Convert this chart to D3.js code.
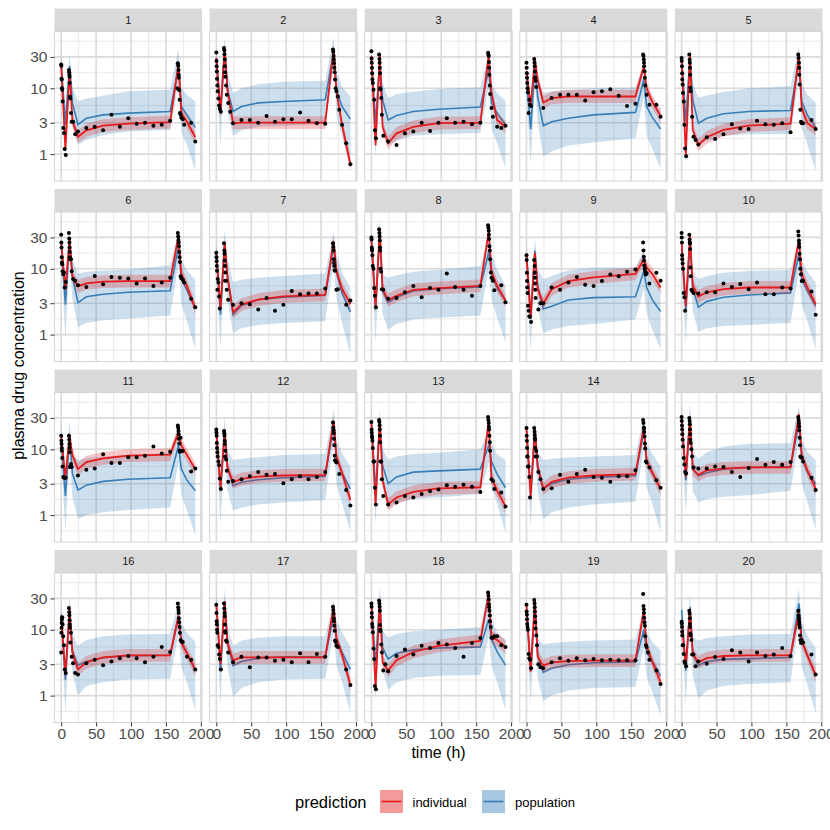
<!DOCTYPE html>
<html>
<head>
<meta charset="utf-8">
<script src="https://cdn.jsdelivr.net/npm/d3@7"></script>
<style>
  body { margin: 0; background: #fff; }
  text { font-family: "Liberation Sans", Arial, sans-serif; }
</style>
</head>
<body>
<script>
// ---- data ----
const subjects = ["1","2","3","4","5","6","7","8","9","10","11","12","13","14","15","16","17","18","19","20"];

// times (h) where the prediction lines / ribbons are evaluated
const lineTimes = [0, 6, 12, 16, 24, 36, 60, 96, 156, 168, 172, 180, 192];

// sampling times (h) of the observed concentrations
const obsTimes = [0, 0.25, 0.5, 0.75, 1, 1.5, 2, 3, 4, 5, 6.5,
  11, 11.5, 11.75, 12, 12.25, 12.5, 13, 14, 15, 17, 20,
  24, 36, 48, 60, 72, 84, 96, 108, 120, 132, 144, 156,
  166.5, 167, 167.5, 168, 168.25, 168.5, 169, 169.5, 170, 171, 172, 174, 176, 180, 186, 192];

const obsConc = [
  [23,22,14,13.6,10,9.5,6.3,2.5,2.1,1.2,0.97, 19,17.5,16,15,12,7.5,7,4.2,3.1,3.1,2.0, 2.2,2.5,2.6,2.3,3.95,2.6,3.5,2.9,3.0,2.7,2.8,3.2, 10,24,22,19,16,14.5,9.3,6.7,4.2,4,3.6,3.4,2.8,null,3,1.55],
  [35,26,21.7,18,14,11,9,7,5.5,4.9,4.4, 41,38,33,27.5,21.7,17.5,15,11,8,6,4.4, 2.95,3.3,3.3,3.0,3.8,3.1,3.4,3.4,4.3,3.2,2.95,2.9, null,39,36,31,27.5,24,20.5,17.5,13.6,10,9,7.5,4.7,2.8,1.46,0.7],
  [36.5,28.5,24.4,20.6,17,13.6,12,9.5,6.7,2.3,1.74, 32.6,28,24.4,20.6,17,10,9.6,7.1,3.95,1.9,null, 1.55,1.37,2.07,2.2,3.0,2.25,3.0,3.5,3.0,3.1,2.85,3.0, null,34.7,32.6,31,25,20.6,16,11,8.2,null,5,3.7,null,2.6,2.5,2.7],
  [24.4,20.6,17,14.5,12,10,8.7,4.2,6.7,5.6,5.4, 28,24.4,21.7,18,14.5,14.5,13,10.5,null,null,null, 5,7.1,8,8,8,6.5,8.7,9,9.7,7.7,5.4,5.8, null,32.6,31,27.5,24.4,21.7,18.2,14.5,11,null,8,null,5.6,null,5.6,3.7],
  [29,26,21.7,17,13.6,11.4,8.5,6.3,2.8,1.22,0.93, 32.6,27.5,24.4,20.6,16,10.2,9,null,3.7,1.84,1.64, 1.4,1.8,1.7,2.0,2.85,2.45,2.4,3.2,2.85,2.8,2.95,2.15, null,32.6,29,24.4,20.6,16,11.4,null,4.7,3.1,2.95,2.95,null,null,3.3,2.4],
  [33,25,21,15,12.5,11.7,9.2,8.3,8.8,5.2,6.3, 35,29,25,21,18,15,14,14,9.2,7,6.6, 5.6,5.3,7.8,5.8,7.5,7.3,7.1,6.0,7.1,5.5,6.2,7.3, null,35,31,27.5,25,22,18,15,12.7,7.7,7.2,6.8,6.2,null,3.5,2.6],
  [17.5,15,13,11,9.3,4.8,7,6.2,3.8,2.5,null, 24.5,19,17,13.4,11,6.6,8.8,6.6,4.8,3.4,null, 2.85,3.0,2.9,2.4,3.6,2.3,2.85,4.6,4.1,4.2,4.2,5.0, null,24.5,21.5,19,14,12.3,11,9.5,9.3,null,4.8,4.9,null,null,2.85,3.3],
  [30,28,21,20,19,16,11,10,5.1,3.9,2.6, 40,35,31,27,21,19,10,9,4.9,4.8,null, 3.5,3.6,4.4,5.5,3.7,5.1,4.8,8.5,5.3,4.8,3.9,5.5, null,46,42,38,33,28.5,22,19,14,8.8,7.3,6.6,4.7,null,5.6,3.1],
  [16,13.6,8.7,6.5,5.2,4.3,2.75,2.3,1.9,1.85,1.55, 13.6,11,8.7,7.3,6,4.8,3.6,null,null,2.4,3, 3.0,5.2,4.8,6.2,7.5,5.7,5.5,6.5,8.2,7.7,9,9.8, null,25,19,15.3,13.4,11.2,9.9,10,9,8.2,8.6,null,6,null,8.7,6.6],
  [35,30,25,16,14,12,10,4.3,3.7,2.3,null, 33,28,25,24,20,10.5,7.7,4.8,4.6,4.3,null, 4.2,4.4,4.4,6,5.3,5.9,4.9,6.2,4.1,4.1,5.2,5.0, null,37,32,27,24,21.5,17,14,10,8.3,6.5,6.5,null,null,4.5,2.0],
  [16,13.5,12,10.5,9.5,7.4,5.5,3.8,3.7,3.7,3.7, 16,14,12,10.5,9,5.4,5.4,6,5.4,null,null, 4,4.9,5.1,8.4,6.2,6.2,7.6,7.6,8,11,8.6,9.2, null,23,21,19,17,14.5,12.3,9.6,9.2,15,9.4,9.4,null,null,4.6,5.1],
  [20,18,16,12.5,10.5,9,7.8,6.5,5.7,3.6,2.5, 19,17.5,16,13.5,12,7.8,9.5,7,4.7,3.2,null, 3.3,3.5,3.9,4.5,4.1,4.2,3.05,3.5,3.9,3.5,3.8,4.5, null,25.5,21.5,19.5,17.5,14.5,11.5,8,6.8,6.5,6.3,null,4.2,null,2.4,1.4],
  [26,20,18,16,15,13.5,10.5,6.5,6.5,2.6,1.45, 28,26,23,20,16,12.8,6.5,6.5,3.5,1.95,null, 1.45,1.55,1.95,1.85,2.1,2.3,2.45,2.85,2.7,2.9,2.7,2.25, null,31,28,25,22,20,16,12.8,9.5,null,3.5,3.3,2.5,null,2.2,1.35],
  [21,16,13.5,10.5,7.8,7.8,5.5,5.5,3.8,1.85,null, 21,18.5,16.5,14.7,14,10.5,7.8,9.4,7.8,4.5,3.5, 2.5,2.55,4.1,3.2,4.2,4.9,3.8,3.7,3.2,3.9,3.9,4.8, null,28,25,21.5,20.5,18.3,15.6,12.3,10.3,6.5,6.3,null,5.3,null,3.4,2.6],
  [31,27,23,20,17,14,11,7.4,5.9,4.5,4.3, 30,27,24,20,17,14,12.5,10,7.8,5.3,null, 5.1,5.1,5.5,5.4,4.5,3.8,5.2,7.1,5.8,6.4,5.8,6.4, null,31,28,25,22.5,19.5,15,11.5,7.8,7.5,7.5,6.5,null,null,3.7,2.4],
  [4.5,9,10.7,12.8,14.3,15.5,12,8,5.8,2.5,2.2, 21.5,18.5,16.5,14,12,10.7,6.4,9,3.9,3.1,2.2, 2.1,3.1,3.5,2.9,3.3,3.7,4.0,3.7,3.2,3.9,5.5,4.6, null,25,22,20,18,15,13,11,9,7,6.7,6.5,null,3.9,3.5,2.5],
  [24,18,13.5,12,10,9,5.8,5.5,4.2,3.6,2.5, 25,21,18,16,12,9.5,9,6.9,6.6,4.5,null, 3.2,3.9,2.7,3.8,3.8,3.4,3.5,3.2,4.4,3.2,4.3,3.9, null,22.5,20,17.5,15,13.5,11.5,9.7,6.9,6.5,5.7,5.5,null,null,2.5,1.45],
  [25,22.5,18,15.5,12.3,11,9.2,5.2,3.6,1.4,1.25, 28,25,22.5,19.5,11.8,10,9.5,6,4.5,2.4,3, 2.35,4,5,4.2,5.7,5.3,6.3,6,5.3,3.9,6.3,7.5, null,37,33,29,24.5,22,19.5,16.5,13.5,11,7.6,7.6,8,8,5.8,5.5],
  [24,19,17,14.5,12.3,11,10,4.3,3.7,3.5,2.6, 28.5,25,22,19,16,13,10.5,8.2,5.8,3,2.7, 2.6,3.2,3.7,3.4,3.7,3.45,3.6,3.45,3.5,3.45,3.45,3.45, null,35,23,20.5,18,15.3,13,11.5,8,5.8,5.5,4.5,3.5,null,2.4,1.5],
  [13.3,12.5,11,9.3,8.2,5.8,5.8,4.3,3.3,3.1,2.8, 19.5,17.5,15,12.3,11,8.8,8.2,7,4.2,4.2,2.8, 3.3,3.05,3.85,3.6,4.9,4.5,3.3,4.5,4.0,4.2,5.3,4.0, null,19.5,16.5,15,13.4,12,10.8,8.2,7,6.3,7,6.4,null,null,4.2,2.1]
];

// individual prediction and its band
const ipred = [
  [23,1.18,19,3.2,1.84,2.3,2.7,2.9,3.05,24,4.2,3.1,1.8],
  [29,4.2,41,9.5,2.95,3.0,3.0,3.0,3.0,39,9,2.8,0.7],
  [31,1.37,32.6,2.6,1.46,2.07,2.6,2.95,3.0,32.6,8.5,3.3,2.6],
  [18.2,5.4,27.5,13.6,6.1,7.1,7.5,7.5,7.5,21.7,10,6.3,3.8],
  [29,0.97,32.6,2.33,1.37,1.8,2.33,2.7,2.9,32.6,5.0,2.95,2.4],
  [25,4.9,28.5,7.7,5.4,6.0,6.4,6.5,6.5,32,8.4,5.5,2.5],
  [17.5,2.55,24.7,7.7,2.2,2.85,3.4,3.8,4.0,26,9.4,5.0,2.9],
  [28.5,2.65,40,4.9,3.35,3.9,4.8,5.1,5.5,37,9,5.5,3.3],
  [16,1.86,17.4,4.9,2.95,4.9,6.5,7.4,8.4,14,10.5,8.4,5.2],
  [26,2.7,32,5.5,3.8,4.4,4.9,5.2,5.2,28,8.3,5.2,2.9],
  [16,3.7,16,8.2,5,6.4,7.3,8,8.3,18,11.5,8.2,5],
  [19.3,2.6,19.3,5.3,3.15,3.55,3.85,4.0,4.1,27,7.8,4.4,1.7],
  [26,1.45,29,3.4,1.45,1.85,2.25,2.55,2.65,27.5,3.6,2.35,1.36],
  [21,1.95,21,5.5,2.5,3.2,3.7,4.0,4.2,21.7,6.6,4.5,2.5],
  [31,3.85,31,5,4.1,4.8,5.1,5.3,5.3,34,8,4.8,2.5],
  [16.4,2.1,20.6,4.5,2.5,3.2,3.8,4.1,4.1,16.4,6.3,4.4,2.5],
  [25,3.0,27,6.3,3.45,3.8,3.8,3.8,3.8,22.7,7.5,4.2,1.45],
  [25,1.3,28,3.2,2.4,3.45,4.6,5.7,6.8,36,7.7,7,5.5],
  [23.2,2.3,28,3.9,2.85,3.2,3.35,3.4,3.4,20,5.6,3.3,1.6],
  [14,2.75,20.6,4.3,3.2,3.7,4.0,4.1,4.1,18.5,6.7,4.1,2.05]
];
const ipredLo = [
  [19.6,0.94,16.2,2.56,1.47,1.84,2.16,2.32,2.44,20.4,3.36,2.48,1.44],
  [24.7,3.36,34.9,7.6,2.36,2.4,2.4,2.4,2.4,33.2,7.2,2.24,0.55],
  [26.4,1.1,27.7,2.08,1.17,1.66,2.08,2.36,2.4,27.7,6.8,2.64,2.08],
  [15.5,4.3,23.4,10.9,4.9,5.7,6.0,6.0,6.0,18.4,8.0,5.0,3.0],
  [24.7,0.78,27.7,1.86,1.1,1.44,1.86,2.16,2.32,27.7,4.0,2.36,1.92],
  [21.3,3.9,24.2,6.2,4.3,4.8,5.1,5.2,5.2,27.2,6.7,4.4,2.0],
  [14.9,2.04,21,6.2,1.76,2.28,2.72,3.04,3.2,22.1,7.5,4.0,2.3],
  [24.2,2.12,34,3.9,2.68,3.12,3.84,4.08,4.4,31.5,7.2,4.4,2.6],
  [13.6,1.49,14.8,3.9,2.36,3.9,5.2,5.9,6.7,11.9,8.4,6.7,4.2],
  [22.1,2.16,27.2,4.4,3.04,3.52,3.92,4.16,4.16,23.8,6.6,4.16,2.3],
  [13.6,3.0,13.6,6.6,4.0,5.1,5.8,6.4,6.6,15.3,9.2,6.6,4.0],
  [16.4,2.08,16.4,4.24,2.52,2.84,3.08,3.2,3.28,23,6.24,3.52,1.33],
  [22.1,1.16,24.7,2.72,1.16,1.48,1.8,2.04,2.12,23.4,2.88,1.88,1.06],
  [17.9,1.56,17.9,4.4,2.0,2.56,2.96,3.2,3.36,18.4,5.3,3.6,1.95],
  [26.4,3.08,26.4,4.0,3.28,3.84,4.08,4.24,4.24,28.9,6.4,3.84,1.95],
  [13.9,1.68,17.5,3.6,2.0,2.56,3.04,3.28,3.28,13.9,5.0,3.52,1.95],
  [21.3,2.4,23,5.0,2.76,3.04,3.04,3.04,3.04,19.3,6.0,3.36,1.13],
  [21.3,1.04,23.8,2.56,1.92,2.76,3.68,4.56,5.44,30.6,6.16,5.6,4.3],
  [19.7,1.84,23.8,3.12,2.28,2.56,2.68,2.72,2.72,17,4.48,2.64,1.25],
  [11.9,2.2,17.5,3.44,2.56,2.96,3.2,3.28,3.28,15.7,5.36,3.28,1.6]
];
const ipredHi = [
  [27.1,1.48,22.4,4.0,2.3,2.88,3.38,3.63,3.81,28.3,5.25,3.88,2.25],
  [34.2,5.25,48.4,11.9,3.69,3.75,3.75,3.75,3.75,46.8,11.3,3.5,0.9],
  [36.6,1.71,38.5,3.25,1.83,2.59,3.25,3.69,3.75,38.5,10.6,4.13,3.25],
  [21.5,6.9,32.5,17,7.6,8.9,9.4,9.4,9.4,26,12.5,7.9,4.9],
  [34.2,1.21,38.5,2.91,1.71,2.25,2.91,3.38,3.63,38.5,6.25,3.69,3.0],
  [29.5,6.1,33.6,9.6,6.8,7.5,8.0,8.1,8.1,38.4,10.5,6.9,3.1],
  [20.7,3.2,29.1,9.6,2.75,3.56,4.25,4.75,5.0,31.2,11.8,6.25,3.6],
  [33.6,3.3,47.2,6.1,4.2,4.9,6.0,6.4,6.9,44.4,11.3,6.9,4.1],
  [18.9,2.33,20.5,6.1,3.7,6.1,8.1,9.25,10.5,16.8,13.1,10.5,6.5],
  [30.7,3.4,37.8,6.9,4.75,5.5,6.1,6.5,6.5,33.6,10.4,6.5,3.6],
  [18.9,4.6,18.9,10.3,6.25,8.0,9.1,10,10.4,21.6,14.4,10.3,6.25],
  [22.8,3.25,22.8,6.6,3.94,4.44,4.8,5.0,5.1,32.4,9.75,5.5,2.2],
  [30.7,1.81,34.2,4.25,1.81,2.31,2.81,3.19,3.31,33,4.5,2.94,1.77],
  [24.8,2.44,24.8,6.9,3.13,4.0,4.63,5.0,5.25,26,8.25,5.6,3.25],
  [36.6,4.8,36.6,6.25,5.1,6.0,6.4,6.6,6.6,40.8,10,6.0,3.25],
  [19.4,2.63,24.3,5.6,3.13,4.0,4.75,5.1,5.1,19.7,7.9,5.5,3.25],
  [29.5,3.75,31.9,7.9,4.31,4.75,4.75,4.75,4.75,27.2,9.4,5.25,1.89],
  [29.5,1.63,33,4.0,3.0,4.31,5.75,7.1,8.5,43.2,9.6,8.75,7.15],
  [27.4,2.88,33,4.9,3.56,4.0,4.19,4.25,4.25,24,7.0,4.13,2.08],
  [16.5,3.44,24.3,5.4,4.0,4.63,5.0,5.1,5.1,22.2,8.4,5.1,2.67]
];

// population prediction and its band
const pred = [
  [22,2.8,21.7,6,2.8,3.5,3.95,4.2,4.45,21,5.3,3.95,2.55],
  [29,4.4,39,9.5,4.45,5.3,6,6.3,6.7,37,9.5,5.3,3.4],
  [27.5,3.0,24,6.7,3.3,3.85,4.45,4.8,5.2,19.3,6,4.2,2.8],
  [13.6,2.4,20.5,7.5,2.7,3.1,3.5,3.95,4.3,13.6,5.3,3.65,2.4],
  [27.5,3.1,29,6.7,2.95,3.5,4.1,4.45,4.6,25.8,6.3,3.95,2.55],
  [25,2.85,26,7.7,3.05,3.75,4.1,4.4,4.65,22,7.3,4.7,2.5],
  [17.5,2.0,24.7,7.7,2.0,2.75,3.4,3.7,3.95,22,9,4.3,2.2],
  [27,2.4,35,4.6,3.1,3.7,4.6,5.0,5.3,18,8.5,5.1,3.3],
  [17,1.8,19,5.5,2.45,2.7,3.35,3.65,3.75,9.2,5.2,3.4,2.25],
  [20,2.4,24,5.1,2.6,3.2,3.7,4.0,4.3,17,7,4.6,2.7],
  [14,1.95,16,4.3,2.4,2.85,3.25,3.5,3.7,11.5,5,3.4,2.35],
  [17.5,2.4,19.3,5.3,2.8,3.15,3.45,3.7,3.9,23.6,7.4,4.4,2.5],
  [26,2.3,26,5.7,3.0,3.8,4.5,4.7,5.0,11.5,6.5,4.2,2.6],
  [19,2.1,19,5.1,2.55,3.0,3.5,3.75,3.95,19,6.6,4.3,2.5],
  [31,3.4,31,5,3.95,4.4,5.0,5.3,5.45,25,7.6,4.55,2.95],
  [17,1.75,20,4.8,2.9,3.3,3.75,4.05,4.1,16,6.7,4.5,2.4],
  [25,2.4,27,6.3,2.85,3.3,3.7,3.9,3.9,16.4,7.2,4.6,2.5],
  [25,2.9,28,5.4,3.6,4.4,4.95,5.3,5.5,14.5,7.2,4.65,2.9],
  [20,2.4,25,4.1,2.25,2.6,2.95,3.15,3.25,10,4.7,3.3,2.0],
  [20,2.4,22,4.3,2.9,3.3,3.55,3.65,3.8,25,7,4.1,2.0]
];
const predLo = [
  [12.1,0.84,11.9,2.7,1.37,1.65,1.95,2.2,2.33,11.6,2.12,1.38,0.57],
  [16,1.32,21.5,4.3,1.9,2.3,2.6,2.7,2.9,20.4,3.8,1.86,0.6],
  [15.1,0.9,13.2,3.0,1.37,1.6,1.9,2.0,2.1,10.6,2.4,1.47,0.62],
  [7.5,0.7,11.3,3.0,0.91,1.1,1.35,1.5,1.74,7.5,1.9,1.2,0.6],
  [15,0.93,16,3.0,1.37,1.6,1.9,2.0,2.0,14,2.5,1.4,0.56],
  [13.8,0.85,14.3,3.5,1.3,1.5,1.65,1.75,1.95,12,2.9,1.6,0.6],
  [9.6,0.6,13.6,3.5,1.05,1.25,1.4,1.5,1.6,12,3.6,1.5,0.5],
  [15,0.72,19,2.1,1.18,1.45,1.7,1.8,1.95,10,3.4,1.8,0.75],
  [9.4,0.55,10.5,2.5,1.05,1.2,1.35,1.45,1.7,5,2.1,1.2,0.6],
  [11,0.72,13.2,2.3,1.1,1.25,1.35,1.4,1.5,9.4,2.8,1.6,0.6],
  [7.7,0.55,8.8,1.9,0.87,1.0,1.1,1.2,1.3,6.3,2.0,1.2,0.49],
  [9.6,0.72,10.6,2.4,1.17,1.3,1.45,1.55,1.7,13,3.0,1.5,0.57],
  [14.3,0.7,14.3,2.6,1.25,1.55,1.75,1.85,2.1,6.3,2.6,1.5,0.54],
  [10.5,0.63,10.5,2.3,0.87,1.1,1.3,1.45,1.6,10.5,2.6,1.5,0.55],
  [17,1.0,17,2.3,1.55,1.75,1.9,2.0,2.35,14,3.0,1.6,0.6],
  [9.4,0.53,11,2.2,1.0,1.4,1.6,1.75,1.8,8.8,2.7,1.6,0.6],
  [13.8,0.72,14.9,2.8,0.95,1.3,1.6,1.75,1.8,9,2.9,1.6,0.55],
  [13.8,0.87,15.4,2.4,1.23,1.6,1.85,2.0,2.05,8,2.9,1.6,0.6],
  [11,0.72,13.8,1.85,0.82,1.0,1.2,1.3,1.35,5.5,1.9,1.15,0.5],
  [11,0.72,12.1,1.95,0.9,1.2,1.4,1.5,1.6,13.8,2.8,1.45,0.54]
];
const predHi = [
  [35,5.6,35,10.8,6.3,7.0,7.7,9.0,9.5,40,10.1,7.9,6.3],
  [46,8.8,60,17,8.5,10,11.5,12.6,13,60,18,10.6,7.5],
  [44,6.0,38.4,12.1,7.1,8.1,8.9,9.8,10.4,32.8,11.4,8.4,6.5],
  [22,5.0,33,14,8.5,9.0,9.5,10,10.3,23,10,6.5,4.6],
  [44,6.2,46,12,7.1,7.8,8.8,10,10.7,44,12,8,6.1],
  [40,5.7,42,14,8.5,9.0,9.4,9.8,11.3,37,14,9.4,6.9],
  [28,4.0,40,14,6.3,6.8,7.3,7.8,8.5,37,17,8.6,5.2],
  [43,4.8,56,8.3,7.3,8.0,9.0,9.7,11,31,16,10,5.5],
  [27,3.6,30,9.9,7.0,7.8,9.5,10.5,10.5,19,10,7,5.5],
  [32,4.8,38,9.2,7.0,7.8,8.7,9.3,9.6,29,13,9.2,6.2],
  [25,4.0,28,8.0,6.9,7.3,7.8,8.2,8.9,24,10,7,5.5],
  [28,4.8,31,9.5,6.9,7.2,7.6,8.2,8.5,40,14,8.8,5.5],
  [42,4.6,42,10.3,6.9,7.8,8.5,8.9,10,20,12.4,8.4,6.9],
  [30,4.2,30,9.2,6.9,7.2,7.5,7.8,8.2,32,12.5,8.6,5.5],
  [50,6.8,50,9.0,7.2,9.0,11,12,12.5,45,14.4,9.1,6.9],
  [27,3.5,32,8.6,5.7,7.0,8.0,8.5,8.6,27,12.7,9.0,6.5],
  [40,4.8,43,11.3,5.7,6.9,7.6,8.0,8.0,28,13.7,9.2,5.5],
  [40,5.8,45,9.7,7.6,8.6,9.5,10,11,40,13.7,9.3,6.9],
  [32,4.8,40,7.4,6.0,6.3,6.6,6.9,7.1,22,9,6.6,4.8],
  [32,4.8,35,7.7,6.9,7.5,8.0,8.5,8.6,42,13.3,8.2,5.3]
];

// axis ticks
const xTicks = [0, 50, 100, 150, 200];
const xMinorTicks = [25, 75, 125, 175];
const yTicks = [1, 3, 10, 30];
const yMinorTicks = [0.577, 1.732, 5.477, 17.32, 51.96];

const legendLabels = ["individual", "population"];
const colors = { individual: "#E41A1C", population: "#377EB8" };

// ---- layout ----
const plotLeft = 54.5, plotTop = 8.5;
const pw = 147.5, ph = 149.5, stripH = 23;
const colStep = 155.1, rowStep = 180.5;

const svg = d3.select("body")
    .append("svg")
    .attr("width", 830)
    .attr("height", 830);

const x = d3.scaleLinear().domain([-9.6, 201.6]).range([0, pw]);
const y = d3.scaleLog().domain([0.39, 73]).range([ph, 0]);

svg.append("defs").append("clipPath")
    .attr("id", "clip")
    .append("rect")
    .attr("width", pw)
    .attr("height", ph);

const band = d3.area()
    .x(d => x(d.t))
    .y0(d => y(d.lo))
    .y1(d => y(d.hi));
const line = d3.line()
    .x(d => x(d.t))
    .y(d => y(d.v));

subjects.forEach((id, i) => {
    const col = i % 5, row = Math.floor(i / 5);
    const g = svg.append("g")
        .attr("transform", "translate(" + (plotLeft + col * colStep) + "," + (plotTop + row * rowStep) + ")");

    // strip with the subject label
    g.append("rect")
        .attr("width", pw)
        .attr("height", stripH)
        .attr("fill", "#D9D9D9");
    g.append("text")
        .attr("x", pw / 2)
        .attr("y", stripH / 2)
        .attr("dy", "0.35em")
        .attr("text-anchor", "middle")
        .attr("font-size", 11)
        .attr("fill", "#1A1A1A")
        .text(id);

    const p = g.append("g").attr("transform", "translate(0," + stripH + ")");

    // grid
    p.selectAll(".ymin").data(yMinorTicks).enter().append("line")
        .attr("x1", 0).attr("x2", pw)
        .attr("y1", d => y(d)).attr("y2", d => y(d))
        .attr("stroke", "#E3E3E3").attr("stroke-width", 0.8);
    p.selectAll(".xmin").data(xMinorTicks).enter().append("line")
        .attr("y1", 0).attr("y2", ph)
        .attr("x1", d => x(d)).attr("x2", d => x(d))
        .attr("stroke", "#E3E3E3").attr("stroke-width", 0.8);
    p.selectAll(".ymaj").data(yTicks).enter().append("line")
        .attr("x1", 0).attr("x2", pw)
        .attr("y1", d => y(d)).attr("y2", d => y(d))
        .attr("stroke", "#DADADA").attr("stroke-width", 1.6);
    p.selectAll(".xmaj").data(xTicks).enter().append("line")
        .attr("y1", 0).attr("y2", ph)
        .attr("x1", d => x(d)).attr("x2", d => x(d))
        .attr("stroke", "#DADADA").attr("stroke-width", 1.6);

    const layer = p.append("g").attr("clip-path", "url(#clip)");

    const popBand = lineTimes.map((t, j) => ({ t: t, lo: predLo[i][j], hi: predHi[i][j] }));
    const indBand = lineTimes.map((t, j) => ({ t: t, lo: ipredLo[i][j], hi: ipredHi[i][j] }));
    const popLine = lineTimes.map((t, j) => ({ t: t, v: pred[i][j] }));
    const indLine = lineTimes.map((t, j) => ({ t: t, v: ipred[i][j] }));
    const obs = obsTimes.map((t, j) => ({ t: t, v: obsConc[i][j] })).filter(d => d.v != null);

    layer.append("path").datum(popBand).attr("d", band)
        .attr("fill", colors.population).attr("fill-opacity", 0.25);
    layer.append("path").datum(popLine).attr("d", line)
        .attr("fill", "none").attr("stroke", colors.population).attr("stroke-width", 1.6);
    layer.append("path").datum(indBand).attr("d", band)
        .attr("fill", colors.individual).attr("fill-opacity", 0.25);
    layer.append("path").datum(indLine).attr("d", line)
        .attr("fill", "none").attr("stroke", colors.individual).attr("stroke-width", 1.8);

    layer.selectAll("circle").data(obs).enter().append("circle")
        .attr("cx", d => x(d.t))
        .attr("cy", d => y(d.v))
        .attr("r", 2)
        .attr("fill", "#000");

    // panel border
    p.append("rect")
        .attr("width", pw).attr("height", ph)
        .attr("fill", "none").attr("stroke", "#D4D4D4").attr("stroke-width", 1);

    // axes on the outer panels
    if (col === 0) {
        const ya = p.append("g").call(d3.axisLeft(y).tickValues(yTicks).tickFormat(d3.format("d")).tickSize(4).tickPadding(3));
        ya.select(".domain").remove();
        ya.selectAll("line").attr("stroke", "#333");
        ya.selectAll("text").attr("font-size", 15.5).attr("fill", "#4D4D4D")
            .attr("font-family", "Liberation Sans, Arial, sans-serif");
    }
    if (row === 3) {
        const xa = p.append("g").attr("transform", "translate(0," + ph + ")")
            .call(d3.axisBottom(x).tickValues(xTicks).tickSize(4).tickPadding(1));
        xa.select(".domain").remove();
        xa.selectAll("line").attr("stroke", "#333");
        xa.selectAll("text").attr("font-size", 15.5).attr("fill", "#4D4D4D")
            .attr("font-family", "Liberation Sans, Arial, sans-serif");
    }
});

// axis titles
svg.append("text")
    .attr("x", 438.5)
    .attr("y", 758)
    .attr("text-anchor", "middle")
    .attr("font-size", 16)
    .attr("fill", "#000")
    .text("time (h)");
svg.append("text")
    .attr("transform", "translate(24,365.5) rotate(-90)")
    .attr("text-anchor", "middle")
    .attr("font-size", 16)
    .attr("fill", "#000")
    .text("plasma drug concentration");

// legend
const legend = svg.append("g");
legend.append("text")
    .attr("x", 295).attr("y", 807.5)
    .attr("font-size", 16.5)
    .text("prediction");
const keyX = [380, 482], labelX = [412.5, 515];
legendLabels.forEach((lab, k) => {
    legend.append("rect")
        .attr("x", keyX[k]).attr("y", 790)
        .attr("width", 23).attr("height", 23)
        .attr("fill", colors[lab]).attr("fill-opacity", 0.44);
    legend.append("line")
        .attr("x1", keyX[k] + 1.5).attr("x2", keyX[k] + 21.5)
        .attr("y1", 801.5).attr("y2", 801.5)
        .attr("stroke", colors[lab]).attr("stroke-width", 1.6);
    legend.append("text")
        .attr("x", labelX[k]).attr("y", 806.5)
        .attr("font-size", 13)
        .text(lab);
});
</script>
</body>
</html>
